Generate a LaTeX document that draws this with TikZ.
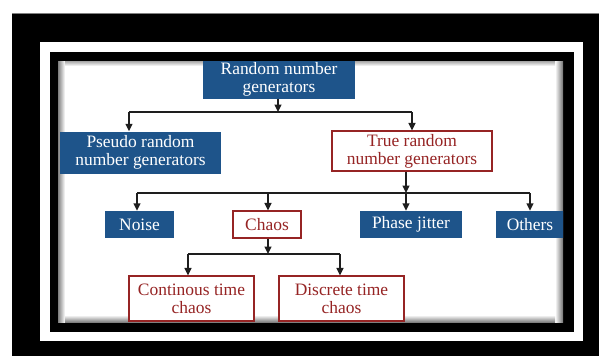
\documentclass[tikz,border=0pt]{standalone}
\usepackage{fontspec}
\setmainfont{Liberation Serif}
\usetikzlibrary{arrows.meta}
\definecolor{boxblue}{RGB}{30,84,138}
\definecolor{boxred}{RGB}{150,36,36}
\definecolor{linegray}{RGB}{30,30,30}
\tikzset{
  basebox/.style={rectangle, inner sep=0pt, align=center,
    font=\fontsize{17.5}{18}\selectfont},
  bluebox/.style={basebox, fill=boxblue, text=white},
  redbox/.style={basebox, fill=white, draw=boxred, line width=1.2bp, text=boxred},
  conn/.style={draw=linegray, line width=1.4bp},
  arr/.style={conn, -{Triangle[width=7bp,length=7.5bp]}},
}
\begin{document}
\begin{tikzpicture}[x=1bp,y=-1bp]
\useasboundingbox (0,0) rectangle (599,359);
\fill[white] (0,0) rectangle (599,359);
% frames
\fill[black] (12,13) rectangle (599,356);
\draw[gray, line width=0.6bp] (12,13) -- (599,13);
\fill[white] (40,42) rectangle (583,341);
\fill[black] (50,52) rectangle (574,332);
\fill[white] (58,61) rectangle (563,322);
% inner shadow
\shade[left color=black!50, right color=white] (58,61) rectangle (65,322);
\shade[left color=white, right color=black!55] (555,61) rectangle (563,322);
\shade[top color=black!35, bottom color=white] (65,61) rectangle (555,66);
\shade[top color=white, bottom color=black!50] (65,315) rectangle (555,322);
\begin{scope}
\clip (58,61) rectangle (563,322);
% nodes
\node[bluebox, minimum width=152bp, minimum height=39bp] (rng) at (279,79)
  {Random number\\generators};
\node[bluebox, minimum width=161bp, minimum height=42bp] (prng) at (140.5,152.5)
  {Pseudo random\\number generators};
\node[redbox, minimum width=160bp, minimum height=40bp] (trng) at (412,151)
  {True random\\number generators};
\node[bluebox, minimum width=69bp, minimum height=27bp] (noise) at (139.5,224.5) {Noise};
\node[redbox, minimum width=68bp, minimum height=27bp] (chaos) at (267,224.5) {Chaos};
\node[bluebox, minimum width=102bp, minimum height=27bp] (phase) at (411,224.5) {Phase jitter};
\node[bluebox, minimum width=68bp, minimum height=27bp] (others) at (530,224.5) {Others};
\node[redbox, minimum width=125bp, minimum height=45bp] (cont) at (191.5,298.5)
  {Continous time\\chaos};
\node[redbox, minimum width=125bp, minimum height=45bp] (disc) at (341.5,298.5)
  {Discrete time\\chaos};
\end{scope}
% connectors level 1
\coordinate (j1) at (278,112);
\coordinate (j1l) at (129,112);
\coordinate (j1r) at (412,112);
\draw[arr] (rng.south -| j1) -- (j1);
\draw[conn] (j1l) -- (j1r);
\draw[arr] (j1l) -- (j1l |- prng.north);
\draw[arr] (j1r) -- (j1r |- trng.north);
% connectors level 2
\coordinate (j2) at (406,193);
\coordinate (j2a) at (137,193);
\coordinate (j2b) at (268,193);
\coordinate (j2d) at (530,193);
\draw[arr] (trng.south -| j2) -- (j2);
\draw[conn] (j2a) -- (j2d);
\draw[arr] (j2a) -- (j2a |- noise.north);
\draw[arr] (j2b) -- (j2b |- chaos.north);
\draw[arr] (j2) -- (j2 |- phase.north);
\draw[arr] (j2d) -- (j2d |- others.north);
% connectors level 3
\coordinate (j3) at (268,254);
\coordinate (j3l) at (188,254);
\coordinate (j3r) at (340,254);
\draw[arr] (chaos.south -| j3) -- (j3);
\draw[conn] (j3l) -- (j3r);
\draw[arr] (j3l) -- (j3l |- cont.north);
\draw[arr] (j3r) -- (j3r |- disc.north);
\end{tikzpicture}
\end{document}
